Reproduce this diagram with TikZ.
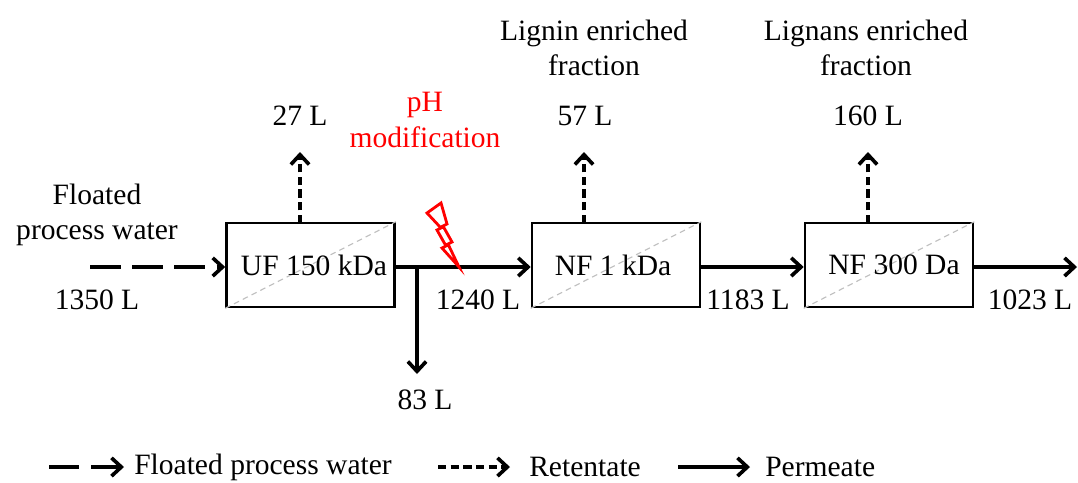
\documentclass[tikz,border=0pt]{standalone}
\usepackage{fontspec}
\setmainfont{Liberation Serif}
\usetikzlibrary{arrows.meta}

\tikzset{
  unitbox/.style = {draw, line width = 1.8pt, minimum width = 4.2cm, minimum height = 2.1cm, inner sep = 0pt},
  feedline/.style = {line width = 2.6pt, dash pattern = on 22pt off 8pt, -{Straight Barb[length = 7pt, width = 13pt]}},
  retline/.style = {line width = 2.6pt, dash pattern = on 6pt off 3pt, -{Straight Barb[length = 7pt, width = 13pt]}},
  permline/.style = {line width = 2.6pt, -{Straight Barb[length = 7pt, width = 13pt]}},
  volume/.style = {inner sep = 0pt},
  diagline/.style = {draw = gray!50, line width = 0.8pt, dash pattern = on 4pt off 3pt}
}

\begin{document}
\begin{tikzpicture}[x = 0.025cm, y = -0.025cm, font = \fontsize{21}{25}\selectfont]
\useasboundingbox (0, 0) rectangle (1078, 482);

% membrane units
\node[unitbox] (uf) at (310.5, 265) {};
\node[unitbox] (nfa) at (616, 265) {};
\node[unitbox] (nfb) at (889, 265) {};
\draw[diagline] (uf.south west) -- (uf.north east);
\draw[diagline] (nfa.south west) -- (nfa.north east);
\draw[diagline] (nfb.south west) -- (nfb.north east);
\node (uftext) at (314, 265) {UF 150 kDa};
\node (nfatext) at (613, 265) {NF 1 kDa};
\node (nfbtext) at (894, 265) {NF 300 Da};

% feed
\coordinate (feed) at (90, 267);
\node[align = center, volume] (feedtext) at (97, 215) {Floated\\process water};
\node[volume] (feedvol) at (97, 300) {1350 L};
\draw[feedline] (feed) -- (uf.west |- feed);

% permeates
\coordinate (split) at (417, 267);
\coordinate (bleed) at (417, 374);
\coordinate (final) at (1077, 267);
\draw[permline] (uf.east |- feed) -- (nfa.west |- feed);
\draw[permline] (split) -- (bleed);
\draw[permline] (nfa.east |- feed) -- (nfb.west |- feed);
\draw[permline] (nfb.east |- feed) -- (final);
\node[volume] (bleedvol) at (425, 400) {83 L};
\node[volume] (pa) at (478, 300) {1240 L};
\node[volume] (pb) at (748, 300) {1183 L};
\node[volume] (pc) at (1030, 300) {1023 L};

% pH step
\draw[red, line width = 2pt, line join = miter] (427, 213) -- (441, 203) -- (447, 224) -- (443, 226) -- (452, 242) -- (448, 244) -- (459, 267) -- (442, 248) -- (446, 246) -- (437, 230) -- (441, 228) -- cycle;
\node[red, align = center, volume] (phtext) at (425, 120) {pH\\modification};

% retentates
\coordinate (ufret) at (300, 223);
\coordinate (ufrettip) at (300, 152);
\coordinate (nfaret) at (584, 223);
\coordinate (nfarettip) at (584, 152);
\coordinate (nfbret) at (868, 223);
\coordinate (nfbrettip) at (868, 152);
\draw[retline] (ufret) -- (ufrettip);
\draw[retline] (nfaret) -- (nfarettip);
\draw[retline] (nfbret) -- (nfbrettip);
\node[volume] (rv1) at (300, 116) {27 L};
\node[volume] (rv2) at (585, 116) {57 L};
\node[volume] (rv3) at (868, 116) {160 L};
\node[align = center, volume] (lignin) at (594, 48) {Lignin enriched\\fraction};
\node[align = center, volume] (lignans) at (866, 48) {Lignans enriched\\fraction};

% legend
\coordinate (la) at (49, 467);
\coordinate (lb) at (124, 467);
\coordinate (lc) at (438, 467);
\coordinate (ld) at (510, 467);
\coordinate (le) at (678, 467);
\coordinate (lf) at (750, 467);
\draw[feedline, dash pattern = on 21pt off 9pt] (la) -- (lb);
\draw[retline] (lc) -- (ld);
\draw[permline] (le) -- (lf);
\node[anchor = west, volume] (lfeed) at (134, 467) {Floated process water};
\node[anchor = west, volume] (lret) at (529, 467) {Retentate};
\node[anchor = west, volume] (lperm) at (765, 467) {Permeate};
\end{tikzpicture}
\end{document}
